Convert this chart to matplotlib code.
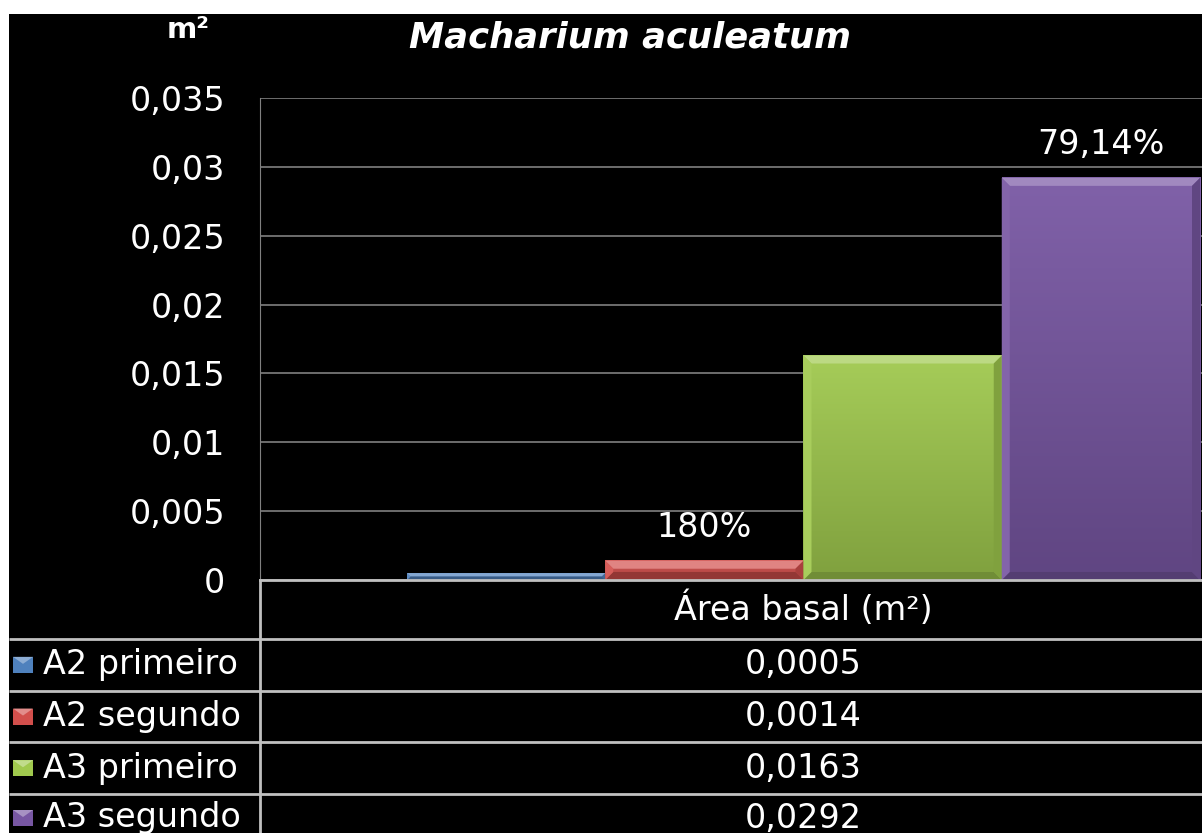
import numpy as np
import matplotlib.pyplot as plt
from matplotlib.patches import Rectangle, Polygon
from matplotlib.colors import to_rgb

# chart data
series = ['A2 primeiro', 'A2 segundo', 'A3 primeiro', 'A3 segundo']
values = [0.0005, 0.0014, 0.0163, 0.0292]
value_labels = ['0,0005', '0,0014', '0,0163', '0,0292']
bar_notes = {1: '180%', 3: '79,14%'}
category = 'Área basal (m²)'
yticks = [0, 0.005, 0.01, 0.015, 0.02, 0.025, 0.03, 0.035]
ytick_labels = ['0', '0,005', '0,01', '0,015', '0,02', '0,025', '0,03', '0,035']
colors = ['#4f81bd', '#d24f4c', '#a0c94e', '#7857a3']

W, H = 1202, 833
FS = 24


def mix(c, other, t):
    c, other = np.array(to_rgb(c)), np.array(to_rgb(other))
    return tuple(c * (1 - t) + other * t)


def bevel_bar(ax, bar, color, px=8):
    x0, y0 = bar.get_x(), bar.get_y()
    w, h = bar.get_width(), bar.get_height()
    # pixel -> data scale
    (ax0, ay0), (ax1, ay1) = ax.transData.transform([(0, 0), (1, 1)])
    sx, sy = ax1 - ax0, ay1 - ay0
    p = min(px, h * sy / 2)
    bx, by = p / sx, p / sy
    # vertical gradient body
    n = 64
    t = np.linspace(0, 1, n)
    top, bot = np.array(mix(color, 'white', 0.06)), np.array(mix(color, 'black', 0.2))
    grad = (top[None, :] * (1 - t[:, None]) + bot[None, :] * t[:, None])[:, None, :]
    ax.imshow(grad, extent=(x0, x0 + w, y0, y0 + h), origin='upper',
              aspect='auto', interpolation='bilinear', zorder=2.1)
    x1, y1 = x0 + w, y0 + h
    faces = [
        ([(x0, y1), (x1, y1), (x1 - bx, y1 - by), (x0 + bx, y1 - by)], mix(color, 'white', 0.3)),
        ([(x0, y0), (x1, y0), (x1 - bx, y0 + by), (x0 + bx, y0 + by)], mix(color, 'black', 0.3)),
        ([(x0, y0), (x0, y1), (x0 + bx, y1 - by), (x0 + bx, y0 + by)], mix(color, 'white', 0.08)),
        ([(x1, y0), (x1, y1), (x1 - bx, y1 - by), (x1 - bx, y0 + by)], mix(color, 'black', 0.2)),
    ]
    for pts, fc in faces:
        ax.add_patch(Polygon(pts, closed=True, facecolor=fc, edgecolor='none', zorder=2.2))


fig = plt.figure(figsize=(W / 100, H / 100), dpi=100, facecolor='white')

# background layer in pixel units, used for the frame, title and data table
bg = fig.add_axes([0, 0, 1, 1], zorder=0)
bg.set_xlim(0, W)
bg.set_ylim(H, 0)
bg.axis('off')
bg.add_patch(Rectangle((9, 14), W, H, facecolor='black', edgecolor='none'))

plot_left, plot_right, plot_top, plot_bottom = 260, 1347, 98, 580
ax = fig.add_axes([plot_left / W, 1 - plot_bottom / H,
                   (plot_right - plot_left) / W, (plot_bottom - plot_top) / H], zorder=1)
ax.set_facecolor('none')

gap = 0.7415
x = np.arange(len(values))
ax.set_xlim(-0.5 - gap, len(values) - 0.5 + gap)
ax.set_ylim(0, 0.035)
bars = ax.bar(x, values, width=1.0, color=colors, zorder=2)
for b, c in zip(bars, colors):
    bevel_bar(ax, b, c)
ax.set_xlim(-0.5 - gap, len(values) - 0.5 + gap)
ax.set_ylim(0, 0.035)

for i, note in bar_notes.items():
    ax.annotate(note, (x[i], values[i]), xytext=(0, 12), textcoords='offset points',
                ha='center', va='bottom', color='white', fontsize=FS, zorder=3)

ax.set_yticks(yticks, ytick_labels)
ax.set_xticks([])
ax.tick_params(axis='y', length=0, pad=25, labelsize=FS, labelcolor='white')
ax.yaxis.grid(True, color='#808080', lw=1.2)
ax.set_axisbelow(True)
for side in ('top', 'right'):
    ax.spines[side].set_visible(False)
ax.spines['left'].set_color('#808080')
ax.spines['bottom'].set_color('#c0c0c0')
ax.spines['bottom'].set_linewidth(2)

# titles
bg.text(630, 37, 'Macharium aculeatum', color='white', fontsize=25.5,
        fontweight='bold', fontstyle='italic', ha='center', va='center')
bg.text(188, 30, 'm²', color='white', fontsize=21, fontweight='bold',
        ha='center', va='center')

# data table below the plot
header_h, row_h = 59, 51.7
row_lines = [plot_bottom + header_h + k * row_h for k in range(len(series))]
for y in row_lines:
    bg.plot([9, W], [y, y], color='#c0c0c0', lw=2, solid_capstyle='butt')
bg.plot([plot_left, plot_left], [plot_bottom, H], color='#c0c0c0', lw=2)

xc = ax.transData.transform((x.mean(), 0))[0]
bg.text(xc, plot_bottom + header_h / 2, category, color='white', fontsize=FS,
        ha='center', va='center')
for k, (name, lab, c) in enumerate(zip(series, value_labels, colors)):
    yc = min(row_lines[k] + row_h / 2, H - 15)
    bg.text(xc, yc, lab, color='white', fontsize=FS, ha='center', va='center')
    bg.add_patch(Rectangle((13, yc - 8), 20, 16, facecolor=c, edgecolor='none'))
    bg.add_patch(Polygon([(13, yc - 8), (33, yc - 8), (23, yc - 1)], closed=True,
                         facecolor=mix(c, 'white', 0.35), edgecolor='none'))
    bg.text(43, yc, name, color='white', fontsize=FS, ha='left', va='center')

fig.savefig('out.png', dpi=100, facecolor='white')
